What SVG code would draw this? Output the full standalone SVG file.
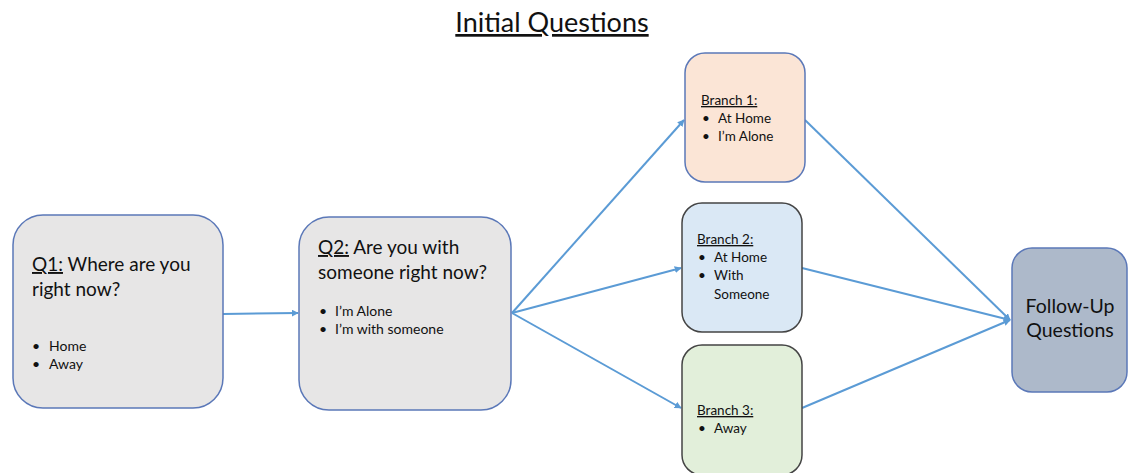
<svg xmlns="http://www.w3.org/2000/svg" width="1130" height="473" viewBox="0 0 1130 473">
  <defs>
    <marker id="arrow" viewBox="0 0 10 10" refX="9" refY="5" markerWidth="7" markerHeight="7" markerUnits="userSpaceOnUse" orient="auto">
      <path d="M0,0 L10,5 L0,10 z" fill="#5b9bd5"/>
    </marker>
    <style>
      text { font-family: Lato, "Open Sans", "Liberation Sans", sans-serif; fill: #111; }
      .box-grey { fill: #e7e6e6; stroke: #5b78b8; stroke-width: 1.5; }
      .box-peach { fill: #fbe5d6; stroke: #5b78b8; stroke-width: 1.5; }
      .box-blue { fill: #dae8f5; stroke: #444; stroke-width: 1.5; }
      .box-green { fill: #e2efda; stroke: #444; stroke-width: 1.5; }
      .box-slate { fill: #adb9ca; stroke: #5b78b8; stroke-width: 1.5; }
      .q { font-size: 19px; }
      .item { font-size: 14px; }
      .br { font-size: 13.5px; }
      .title { font-size: 27px; }
      .follow { font-size: 19.5px; }
      .link { stroke: #5b9bd5; stroke-width: 2; fill: none; marker-end: url(#arrow); }
    </style>
  </defs>
  <rect width="1130" height="473" fill="#ffffff"/>

  <!-- heading -->
  <g id="title">
    <text class="title" x="552" y="32" text-anchor="middle" text-decoration="underline">Initial Questions</text>
  </g>

  <!-- connectors -->
  <g id="connectors">
    <line class="link" x1="223" y1="314" x2="298" y2="313"/>
    <line class="link" x1="512" y1="313" x2="684" y2="120"/>
    <line class="link" x1="512" y1="313" x2="681" y2="268"/>
    <line class="link" x1="512" y1="313" x2="681" y2="408"/>
    <line class="link" x1="805" y1="120" x2="1010" y2="320"/>
    <line class="link" x1="802" y1="268" x2="1010" y2="320"/>
    <line class="link" x1="802" y1="408" x2="1010" y2="320"/>
  </g>

  <!-- Q1 -->
  <g id="q1">
    <rect class="box-grey" x="13" y="215" width="210" height="193" rx="30"/>
    <text class="q" x="32" y="271"><tspan text-decoration="underline">Q1:</tspan> Where are you</text>
    <text class="q" x="32" y="296">right now?</text>
    <text class="item" x="32" y="351">•</text>
    <text class="item" x="49" y="351">Home</text>
    <text class="item" x="32" y="369">•</text>
    <text class="item" x="49" y="369">Away</text>
  </g>

  <!-- Q2 -->
  <g id="q2">
    <rect class="box-grey" x="299" y="217" width="212" height="193" rx="30"/>
    <text class="q" x="318" y="254"><tspan text-decoration="underline">Q2:</tspan> Are you with</text>
    <text class="q" x="318" y="279">someone right now?</text>
    <text class="item" x="319" y="316">•</text>
    <text class="item" x="335" y="316">I’m Alone</text>
    <text class="item" x="319" y="334">•</text>
    <text class="item" x="335" y="334">I’m with someone</text>
  </g>

  <!-- Branch 1 -->
  <g id="branch1">
    <rect class="box-peach" x="685" y="53" width="120" height="129" rx="20"/>
    <text class="br" x="701" y="105" text-decoration="underline">Branch 1:</text>
    <text class="br" x="702" y="123">•</text>
    <text class="br" x="718" y="123">At Home</text>
    <text class="br" x="702" y="141">•</text>
    <text class="br" x="718" y="141">I’m Alone</text>
  </g>

  <!-- Branch 2 -->
  <g id="branch2">
    <rect class="box-blue" x="682" y="203" width="120" height="129" rx="20"/>
    <text class="br" x="697" y="244" text-decoration="underline">Branch 2:</text>
    <text class="br" x="698" y="262">•</text>
    <text class="br" x="714" y="262">At Home</text>
    <text class="br" x="698" y="280">•</text>
    <text class="br" x="714" y="280">With</text>
    <text class="br" x="714" y="299">Someone</text>
  </g>

  <!-- Branch 3 -->
  <g id="branch3">
    <rect class="box-green" x="682" y="345" width="120" height="130" rx="20"/>
    <text class="br" x="697" y="415" text-decoration="underline">Branch 3:</text>
    <text class="br" x="698" y="433">•</text>
    <text class="br" x="714" y="433">Away</text>
  </g>

  <!-- Follow-up -->
  <g id="followup">
    <rect class="box-slate" x="1012" y="248" width="115" height="144" rx="20"/>
    <text class="follow" x="1070" y="313" text-anchor="middle">Follow-Up</text>
    <text class="follow" x="1070" y="337" text-anchor="middle">Questions</text>
  </g>
</svg>
